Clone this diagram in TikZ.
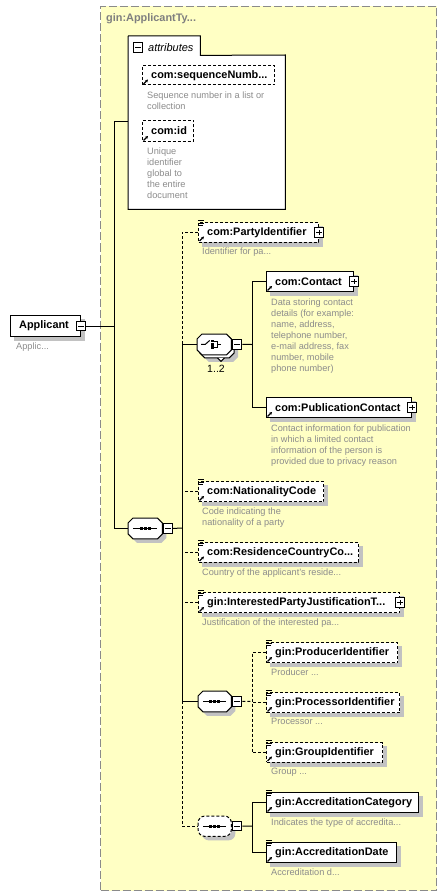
\documentclass[tikz,border=0pt]{standalone}
\usepackage{fontspec}
\setmainfont{Liberation Sans}
\usetikzlibrary{arrows.meta}
\pgfdeclarelayer{bgl}
\pgfdeclarelayer{shadow}
\pgfsetlayers{bgl,shadow,main}
\definecolor{bgy}{HTML}{FFFFC4}
\definecolor{frm}{HTML}{8A8A8A}
\definecolor{shd}{HTML}{C2C2C2}
\definecolor{dsc}{HTML}{8C8C8C}
\definecolor{ttl}{HTML}{7F7F7F}
\tikzset{
  conn/.style={line width=1pt},
  dsh/.style={dash pattern=on 3pt off 2pt},
  elbox/.style={rectangle, draw=black, line width=1pt, fill=white, inner sep=0pt},
  lbl/.style={font=\fontsize{10.9}{13}\selectfont\bfseries, inner sep=0pt},
  desc/.style={font=\fontsize{9.2}{11}\selectfont, text=dsc, align=left, inner sep=0pt, anchor=north west},
  pmbox/.style={rectangle, draw=black, line width=1pt, fill=white, minimum size=9.5pt, inner sep=0pt},
  minus/.style={pmbox, path picture={\draw[black,line width=1pt] ([xshift=2pt]path picture bounding box.west) -- ([xshift=-2pt]path picture bounding box.east);}},
  plus/.style={pmbox, path picture={\draw[black,line width=1pt] ([xshift=2pt]path picture bounding box.west) -- ([xshift=-2pt]path picture bounding box.east); \draw[black,line width=1pt] ([yshift=-2pt]path picture bounding box.north) -- ([yshift=2pt]path picture bounding box.south);}},
  compnode/.style={rectangle, draw=none, inner sep=0pt},
  icl/.style={line width=0.9pt},
  arric/.style={line width=1.1pt, -{Stealth[length=2.8pt,width=3pt]}}
}
% shadow of a rectangular node
\newcommand\xshd[1]{%
  \begin{pgfonlayer}{shadow}
  \begin{scope}[transform canvas={shift={(4pt,-4pt)}}]
    \fill[shd] (#1.north west) rectangle (#1.south east);
  \end{scope}
  \end{pgfonlayer}}
% octagon path on a node
\newcommand\xoctpath[1]{([xshift=5pt]#1.north west) -- ([xshift=-5pt]#1.north east) -- ([yshift=-5pt]#1.north east) -- ([yshift=5pt]#1.south east) -- ([xshift=-5pt]#1.south east) -- ([xshift=5pt]#1.south west) -- ([yshift=5pt]#1.south west) -- ([yshift=-5pt]#1.north west) -- cycle}
\newcommand\xoct[2]{%
  \begin{pgfonlayer}{shadow}
  \begin{scope}[transform canvas={shift={(4pt,-4pt)}}]
    \fill[shd] \xoctpath{#1};
  \end{scope}
  \end{pgfonlayer}
  \filldraw[fill=white, draw=black, line width=1pt, #2] \xoctpath{#1};}
\newcommand\xseqic[1]{%
  \draw[line width=1pt] ([xshift=5pt]#1.west) -- ([xshift=-5pt]#1.east);
  \fill[black] ([shift={(-5.5pt,-1.5pt)}]#1.center) rectangle ++(3pt,3pt);
  \fill[black] ([shift={(-1.5pt,-1.5pt)}]#1.center) rectangle ++(3pt,3pt);
  \fill[black] ([shift={(2.5pt,-1.5pt)}]#1.center) rectangle ++(3pt,3pt);}
\newcommand\xel[7]{%
  \node[elbox,#6,minimum width=#4pt,minimum height=#5pt,anchor=north west] (#1) at (#2,#3) {};
  \xshd{#1}
  \node[lbl,anchor=west] (#1-t) at ([xshift=9pt]#1.west) {#7};
  \draw[arric] ([shift={(1.6pt,1.6pt)}]#1.south west) -- ++(4.4pt,4.4pt);
}
\newcommand\xeq[1]{%
  \draw[icl] ([shift={(0.3pt,1.2pt)}]#1.north west) -- ++(5.5pt,0pt);
  \draw[icl] ([shift={(0.3pt,-1.1pt)}]#1.north west) -- ++(5.5pt,0pt);
  \draw[icl] ([shift={(0.3pt,-3.4pt)}]#1.north west) -- ++(4.5pt,0pt);
}
\begin{document}
\begin{tikzpicture}[x=1pt,y=-1pt]
\useasboundingbox (0,0) rectangle (447,896);
% background type box
\begin{pgfonlayer}{bgl}
\node[draw=frm, line width=1pt, dash pattern=on 8pt off 3pt, fill=bgy, minimum width=336pt, minimum height=884pt, inner sep=0pt, anchor=north west] (bg) at (100,6) {};
\end{pgfonlayer}
\node[lbl, text=ttl, anchor=west] (title) at (106,18.5) {gin:ApplicantTy...};

% attributes box
\node[fill=white, inner sep=0pt, minimum width=72pt, minimum height=19pt, anchor=north west] (attrtab) at (128,36) {};
\node[fill=white, inner sep=0pt, minimum width=157pt, minimum height=154pt, anchor=north west] (attr) at (128,55) {};
\draw[line width=1pt] (attrtab.north west) -- (attrtab.north east) -- (attrtab.south east) -- (attr.north east) -- (attr.south east) -- (attr.south west) -- (attrtab.north west);
\node[minus] (attrm) at (138,47.5) {};
\node[font=\fontsize{11}{13}\selectfont\itshape, inner sep=0pt, anchor=west] (attrl) at (148,47.5) {attributes};

\xel{seqn}{142}{65}{132}{19.5}{dsh}{com:sequenceNumb...}
\node[desc] (seqn-d) at (147,92) {Sequence number in a list or\\collection};
\xel{cid}{142}{120}{51}{21}{dsh}{com:id}
\node[desc] (cid-d) at (147,147.7) {Unique\\identifier\\global to\\the entire\\document};

% Applicant
\node[elbox, minimum width=70pt, minimum height=21pt, anchor=north west] (app) at (10,315) {};
\xshd{app}
\node[lbl, anchor=west] (app-t) at ([xshift=9pt]app.west) {Applicant};
\node[minus] (appm) at (app.east) {};
\node[desc] (app-d) at (16,342.7) {Applic...};

% main sequence
\node[compnode, minimum width=34pt, minimum height=20.5pt, anchor=north west] (s1) at (128,518) {};
\xoct{s1}{}
\xseqic{s1}
\node[minus, anchor=west] (s1m) at ([xshift=0.3pt]s1.east) {};

% elements
\xel{party}{198}{222}{120}{19.5}{dsh}{com:PartyIdentifier}
\xeq{party}
\node[plus] (party-p) at (party.east) {};
\node[desc] (party-d) at (202,248) {Identifier for pa...};

% choice (with multiplicity stack)
\node[compnode, minimum width=34pt, minimum height=20.5pt] (chb) at (217,347.5) {};
\xoct{chb}{}
\draw[line width=1pt, fill=white] ([xshift=0.5pt]chb.south) -- ++(3.5pt,-3.5pt) -- ++(3.5pt,3.5pt);
\node[compnode, minimum width=34pt, minimum height=20.5pt, anchor=north west] (ch) at (197,334) {};
\filldraw[fill=white, draw=black, line width=1pt] \xoctpath{ch};
\begin{scope}[shift={(ch.center)}, line width=1pt]
  \draw (-13,0) -- (-9,0) -- (-4.5,-4);
  \fill (-3,-4.5) rectangle (0,-2);
  \fill (-3,-1.3) rectangle (0,1.3);
  \fill (-3,2) rectangle (0,4.5);
  \draw (0,-3.3) -- (3,-3.3) -- (3,3.3) -- (0,3.3);
  \draw (3,0) -- (7,0);
\end{scope}
\node[minus, anchor=west] (chm) at ([xshift=0.5pt]ch.east) {};
\node[font=\fontsize{10.5}{12}\selectfont, inner sep=0pt] (mult) at (216,369) {1..2};

\xel{contact}{266}{271}{87}{20}{solid}{com:Contact}
\node[plus] (contact-p) at (contact.east) {};
\node[desc] (contact-d) at (271,298.3) {Data storing contact\\details (for example:\\name, address,\\telephone number,\\e-mail address, fax\\number, mobile\\phone number)};
\xel{pub}{266}{397}{145}{20}{solid}{com:PublicationContact}
\node[plus] (pub-p) at (pub.east) {};
\node[desc] (pub-d) at (271,424.3) {Contact information for publication\\in which a limited contact\\information of the person is\\provided due to privacy reason};

\xel{nat}{198}{481}{125}{20}{dsh}{com:NationalityCode}
\xeq{nat}
\node[desc] (nat-d) at (202,507.7) {Code indicating the\\nationality of a party};
\xel{res}{198}{542}{160}{19.5}{dsh}{com:ResidenceCountryCo...}
\xeq{res}
\node[desc] (res-d) at (202,568.3) {Country of the applicant's reside...};
\xel{jus}{198}{592}{201}{20}{dsh}{gin:InterestedPartyJustificationT...}
\xeq{jus}
\node[plus] (jus-p) at (jus.east) {};
\node[desc] (jus-d) at (202,619) {Justification of the interested pa...};

% second sequence
\node[compnode, minimum width=33pt, minimum height=20.5pt, anchor=north west] (s2) at (198,691) {};
\xoct{s2}{}
\xseqic{s2}
\node[minus, anchor=west] (s2m) at ([xshift=0.5pt]s2.east) {};
\xel{prod}{266}{642}{131}{20}{dsh}{gin:ProducerIdentifier}
\xeq{prod}
\node[desc] (prod-d) at (271,668.3) {Producer ...};
\xel{proc}{266}{692}{133}{20}{dsh}{gin:ProcessorIdentifier}
\xeq{proc}
\node[desc] (proc-d) at (271,718.3) {Processor ...};
\xel{grp}{266}{742}{116}{19.5}{dsh}{gin:GroupIdentifier}
\xeq{grp}
\node[desc] (grp-d) at (271,768.3) {Group ...};

% third sequence (optional)
\node[compnode, minimum width=33pt, minimum height=20pt, anchor=north west] (s3) at (198,816) {};
\begin{pgfonlayer}{shadow}
\begin{scope}[transform canvas={shift={(4pt,-4pt)}}]
  \fill[shd, rounded corners=7pt] (s3.north west) rectangle (s3.south east);
\end{scope}
\end{pgfonlayer}
\filldraw[fill=white, draw=black, line width=1pt, dsh, rounded corners=7pt] (s3.north west) rectangle (s3.south east);
\xseqic{s3}
\node[minus, anchor=west] (s3m) at ([xshift=0.5pt]s3.east) {};
\xel{acat}{266}{792}{152}{20}{solid}{gin:AccreditationCategory}
\xeq{acat}
\node[desc] (acat-d) at (271,819) {Indicates the type of accredita...};
\xel{adate}{266}{842}{130}{20}{solid}{gin:AccreditationDate}
\xeq{adate}
\node[desc] (adate-d) at (271,868.3) {Accreditation d...};

% connectors
\coordinate (t1a) at (114,122);
\coordinate (j2) at (182,528);
\coordinate (j3) at (252,344.5);
\coordinate (j4) at (252,701.5);
\coordinate (j5) at (252,826);
\draw[conn] (t1a) -- (t1a -| attr.west);
\draw[conn] (t1a) -- (t1a |- s1.west) -- (s1.west);
\draw[conn] (appm.east) -- (appm.east -| t1a);
\draw[conn] (s1m.east) -- (j2);
\draw[conn,dsh] (party.west) -- (party.west -| j2) -- (ch.west -| j2);
\draw[conn] (ch.west -| j2) -- (ch.west);
\draw[conn] (ch.west -| j2) -- (s2.west -| j2) -- (s2.west);
\draw[conn,dsh] (s2.west -| j2) -- (s3.west -| j2) -- (s3.west);
\draw[conn,dsh] (nat.west) -- (nat.west -| j2);
\draw[conn,dsh] (res.west) -- (res.west -| j2);
\draw[conn,dsh] (jus.west) -- (jus.west -| j2);
\draw[conn] (chm.east) -- (j3);
\draw[conn] (contact.west) -- (contact.west -| j3) -- (pub.west -| j3) -- (pub.west);
\draw[conn,dsh] (s2m.east) -- (j4);
\draw[conn,dsh] (prod.west) -- (prod.west -| j4) -- (grp.west -| j4) -- (grp.west);
\draw[conn,dsh] (proc.west) -- (proc.west -| j4);
\draw[conn] (s3m.east) -- (j5);
\draw[conn] (acat.west) -- (acat.west -| j5) -- (adate.west -| j5) -- (adate.west);
\end{tikzpicture}
\end{document}
